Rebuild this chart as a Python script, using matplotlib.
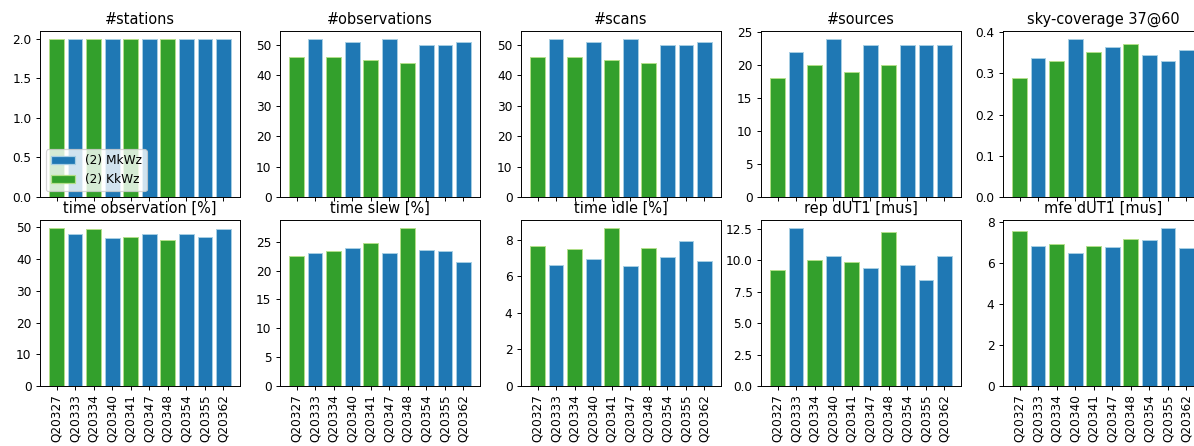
import numpy as np
import matplotlib
matplotlib.use('Agg')
import matplotlib.pyplot as plt

sessions = ['Q20327', 'Q20333', 'Q20334', 'Q20340', 'Q20341',
            'Q20347', 'Q20348', 'Q20354', 'Q20355', 'Q20362']
network = ['KkWz', 'MkWz', 'KkWz', 'MkWz', 'KkWz',
           'MkWz', 'KkWz', 'MkWz', 'MkWz', 'MkWz']

n_stations = [2, 2, 2, 2, 2, 2, 2, 2, 2, 2]
n_obs = [46, 52, 46, 51, 45, 52, 44, 50, 50, 51]
n_scans = [46, 52, 46, 51, 45, 52, 44, 50, 50, 51]
n_sources = [18, 22, 20, 24, 19, 23, 20, 23, 23, 23]
sky_cov = [0.290, 0.338, 0.331, 0.384, 0.352, 0.364, 0.371, 0.344, 0.331, 0.358]
t_obs = [49.8, 47.8, 49.3, 46.7, 46.9, 47.8, 45.9, 47.8, 46.9, 49.6]
t_slew = [22.5, 23.0, 23.4, 23.95, 24.8, 23.1, 27.4, 23.5, 23.4, 21.45]
t_idle = [7.67, 6.62, 7.5, 6.95, 8.64, 6.57, 7.56, 7.05, 7.93, 6.82]
rep_dut1 = [9.19, 12.55, 10.02, 10.29, 9.81, 9.38, 12.23, 9.57, 8.42, 10.31]
mfe_dut1 = [7.60, 6.83, 6.93, 6.52, 6.86, 6.80, 7.21, 7.14, 7.73, 6.77]

panels = [
    ('#stations', n_stations), ('#observations', n_obs), ('#scans', n_scans),
    ('#sources', n_sources), ('sky-coverage 37@60', sky_cov),
    ('time observation [%]', t_obs), ('time slew [%]', t_slew),
    ('time idle [%]', t_idle), ('rep dUT1 [mus]', rep_dut1),
    ('mfe dUT1 [mus]', mfe_dut1),
]

face = {'MkWz': '#1f78b4', 'KkWz': '#33a02c'}
edge = {'MkWz': '#a6cee3', 'KkWz': '#b2df8a'}

# original was drawn bigger and shrunk, so render at a lower dpi
W, H = 1194, 446
dpi = 87
fig = plt.figure(figsize=(W / dpi, H / dpi), dpi=dpi)

lefts = [40, 280, 521, 761, 1003]
tops = [31, 220]
aw, ah = 200, 166

x = np.arange(len(sessions))
for i, (title, vals) in enumerate(panels):
    r, c = divmod(i, 5)
    ax = fig.add_axes([lefts[c] / W, 1 - (tops[r] + ah) / H, aw / W, ah / H])
    ax.bar(x, vals, color=[face[n] for n in network],
           edgecolor=[edge[n] for n in network], linewidth=0.8)
    ax.set_title(title)
    ax.set_xticks(x)
    if r == 0:
        ax.set_xticklabels([])
    else:
        ax.set_xticklabels(sessions, rotation=90)
    if i == 0:
        h1 = plt.Rectangle((0, 0), 1, 1, fc=face['MkWz'], ec=edge['MkWz'])
        h2 = plt.Rectangle((0, 0), 1, 1, fc=face['KkWz'], ec=edge['KkWz'])
        ax.legend([h1, h2], ['(2) MkWz', '(2) KkWz'], loc='lower left')

fig.savefig('out.png', dpi=dpi)
